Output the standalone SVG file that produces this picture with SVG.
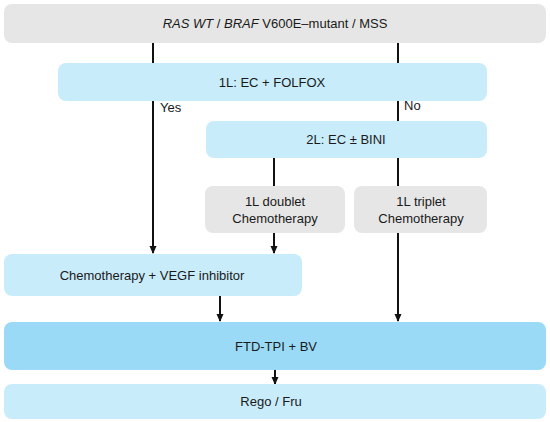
<svg xmlns="http://www.w3.org/2000/svg" width="550" height="422" viewBox="0 0 550 422">
<style>
text{font-family:"Liberation Sans",Arial,sans-serif;font-size:13px;fill:#1a1a1a;text-anchor:middle}
.g{fill:#e6e6e6}
.b{fill:#c9ecfb}
.d{fill:#9bdaf6}
.l{stroke:#111;stroke-width:2;fill:none}
.lab{text-anchor:start}
</style>
<defs>
<marker id="ah" markerWidth="8" markerHeight="8" refX="7" refY="4" orient="auto" markerUnits="userSpaceOnUse">
<path d="M0,0.5 L8,4 L0,7.5 z" fill="#111"/>
</marker>
</defs>
<rect width="550" height="422" fill="#fff"/>
<g id="connectors">
<line class="l" x1="153" y1="43" x2="153" y2="63"/>
<line class="l" x1="398" y1="43" x2="398" y2="63"/>
<line class="l" x1="153" y1="101" x2="153" y2="253" marker-end="url(#ah)"/>
<line class="l" x1="398" y1="101" x2="398" y2="121"/>
<line class="l" x1="274" y1="158" x2="274" y2="186"/>
<line class="l" x1="398" y1="158" x2="398" y2="186"/>
<line class="l" x1="274" y1="232" x2="274" y2="253" marker-end="url(#ah)"/>
<line class="l" x1="398" y1="232" x2="398" y2="321" marker-end="url(#ah)"/>
<line class="l" x1="220" y1="296" x2="220" y2="321" marker-end="url(#ah)"/>
<line class="l" x1="275" y1="370" x2="275" y2="384" marker-end="url(#ah)"/>
<text class="lab" x="160" y="112">Yes</text>
<text class="lab" x="404" y="110">No</text>
</g>
<g id="top"><rect class="g" x="4" y="4" width="542" height="39" rx="8"/>
<text x="275" y="28"><tspan font-style="italic">RAS WT</tspan> / <tspan font-style="italic">BRAF</tspan> V600E–mutant / MSS</text></g>
<g id="l1"><rect class="b" x="58" y="63" width="429" height="38" rx="8"/>
<text x="272" y="87">1L: EC + FOLFOX</text></g>
<g id="l2"><rect class="b" x="206" y="121" width="281" height="37" rx="8"/>
<text x="346" y="144">2L: EC ± BINI</text></g>
<g id="doublet"><rect class="g" x="205" y="186" width="140" height="47" rx="8"/>
<text x="275" y="206">1L doublet</text><text x="275" y="223">Chemotherapy</text></g>
<g id="triplet"><rect class="g" x="354" y="186" width="133" height="47" rx="8"/>
<text x="421" y="206">1L triplet</text><text x="421" y="223">Chemotherapy</text></g>
<g id="chemo"><rect class="b" x="4" y="254" width="298" height="42" rx="8"/>
<text x="152" y="280">Chemotherapy + VEGF inhibitor</text></g>
<g id="ftd"><rect class="d" x="4" y="322" width="542" height="48" rx="8"/>
<text x="276" y="351">FTD-TPI + BV</text></g>
<g id="rego"><rect class="b" x="4" y="384" width="542" height="35" rx="8"/>
<text x="271" y="406">Rego / Fru</text></g>
</svg>
